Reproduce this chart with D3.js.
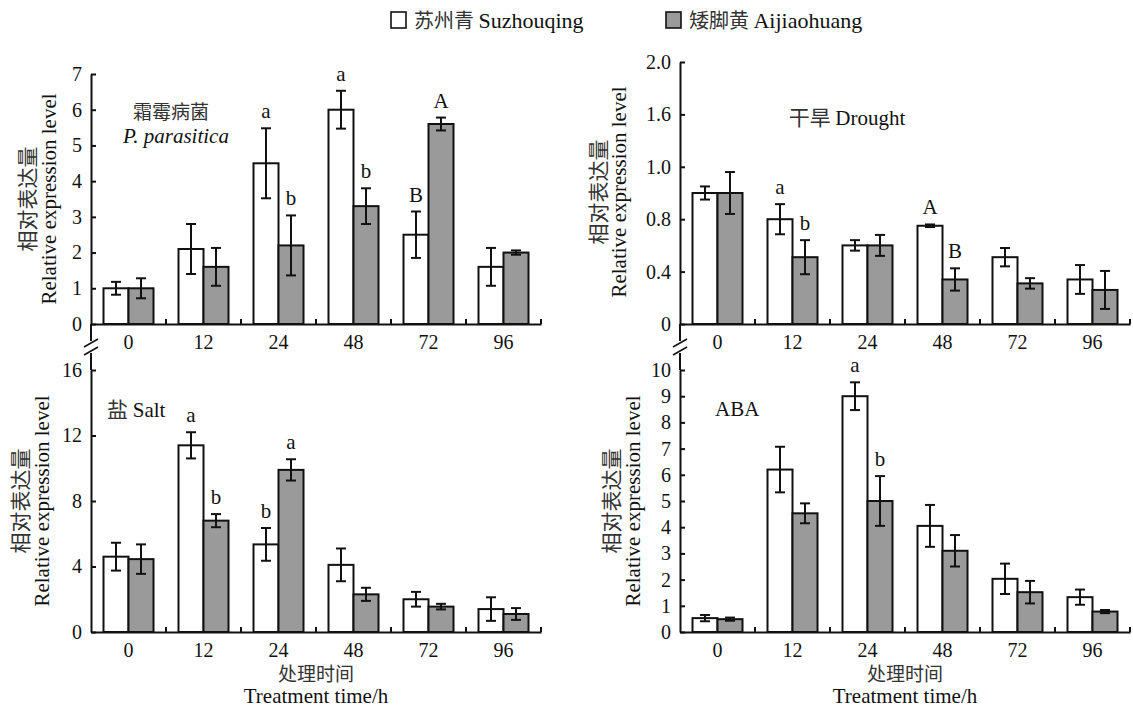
<!DOCTYPE html>
<html>
<head>
<meta charset="utf-8">
<script src="https://cdn.jsdelivr.net/npm/d3@7"></script>
<style>
  body { margin: 0; background: #fff; }
</style>
</head>
<body>
<svg id="chart" width="1133" height="709"></svg>
<script>
// Time points (h) and cultivars
const times = ['0', '12', '24', '48', '72', '96'];
const cultivars = ['苏州青 Suzhouqing', '矮脚黄 Aijiaohuang'];

// 霜霉病菌 P. parasitica
const downyWhite = [1.0, 2.1, 4.5, 6.0, 2.5, 1.6];
const downyWhiteErr = [0.18, 0.7, 0.98, 0.53, 0.65, 0.53];
const downyGrey = [1.0, 1.6, 2.2, 3.3, 5.6, 2.0];
const downyGreyErr = [0.28, 0.53, 0.84, 0.5, 0.18, 0.06];
const downyWhiteSig = ['', '', 'a', 'a', 'B', ''];
const downyGreySig = ['', '', 'b', 'b', 'A', ''];
const downyTicks = [0, 1, 2, 3, 4, 5, 6, 7];
const downyTickLabels = ['0', '1', '2', '3', '4', '5', '6', '7'];

// 干旱 Drought
const droughtWhite = [1.0, 0.8, 0.6, 0.75, 0.51, 0.34];
const droughtWhiteErr = [0.05, 0.115, 0.04, 0.01, 0.07, 0.11];
const droughtGrey = [1.0, 0.51, 0.6, 0.34, 0.31, 0.26];
const droughtGreyErr = [0.16, 0.13, 0.08, 0.085, 0.04, 0.145];
const droughtWhiteSig = ['', 'a', '', 'A', '', ''];
const droughtGreySig = ['', 'b', '', 'B', '', ''];
const droughtTicks = [0, 0.4, 0.8, 1.2, 1.6, 2.0];
const droughtTickLabels = ['0', '0.4', '0.8', '1.0', '1.6', '2.0'];

// 盐 Salt
const saltWhite = [4.6, 11.4, 5.35, 4.1, 2.0, 1.4];
const saltWhiteErr = [0.85, 0.8, 1.0, 1.0, 0.45, 0.72];
const saltGrey = [4.45, 6.8, 9.9, 2.3, 1.55, 1.1];
const saltGreyErr = [0.9, 0.4, 0.65, 0.4, 0.17, 0.36];
const saltWhiteSig = ['', 'a', 'b', '', '', ''];
const saltGreySig = ['', 'b', 'a', '', '', ''];
const saltTicks = [0, 4, 8, 12, 16];
const saltTickLabels = ['0', '4', '8', '12', '16'];

// ABA
const abaWhite = [0.53, 6.2, 9.0, 4.05, 2.03, 1.33];
const abaWhiteErr = [0.12, 0.87, 0.53, 0.8, 0.58, 0.29];
const abaGrey = [0.49, 4.53, 5.0, 3.1, 1.52, 0.78];
const abaGreyErr = [0.06, 0.38, 0.95, 0.6, 0.43, 0.06];
const abaWhiteSig = ['', '', 'a', '', '', ''];
const abaGreySig = ['', '', 'b', '', '', ''];
const abaTicks = [0, 1, 2, 3, 4, 5, 6, 7, 8, 9, 10];
const abaTickLabels = ['0', '1', '2', '3', '4', '5', '6', '7', '8', '9', '10'];

const serif = '"Times New Roman", "Liberation Serif", serif';
const cjk = '"Noto Sans CJK SC", sans-serif';
const greyFill = '#9a9a9a';
const ink = '#111';
const cjkInk = '#333';

const svg = d3.select('#chart');

// Panel layout
const panels = [
    { left: 91, right: 541, top: 74, bottom: 324, max: 7, ticks: downyTicks, labels: downyTickLabels,
      white: downyWhite, whiteErr: downyWhiteErr, grey: downyGrey, greyErr: downyGreyErr,
      whiteSig: downyWhiteSig, greySig: downyGreySig,
      ytitle: { cx: 27, ex: 49, cy: 199 }, breakDown: true },
    { left: 680, right: 1130, top: 62, bottom: 324, max: 2, ticks: droughtTicks, labels: droughtTickLabels,
      white: droughtWhite, whiteErr: droughtWhiteErr, grey: droughtGrey, greyErr: droughtGreyErr,
      whiteSig: droughtWhiteSig, greySig: droughtGreySig,
      ytitle: { cx: 598, ex: 619, cy: 192 }, breakDown: true },
    { left: 91, right: 541, top: 370, bottom: 632, max: 16, ticks: saltTicks, labels: saltTickLabels,
      white: saltWhite, whiteErr: saltWhiteErr, grey: saltGrey, greyErr: saltGreyErr,
      whiteSig: saltWhiteSig, greySig: saltGreySig,
      ytitle: { cx: 20, ex: 42, cy: 501 }, xtitle: true },
    { left: 680, right: 1130, top: 370, bottom: 632, max: 10, ticks: abaTicks, labels: abaTickLabels,
      white: abaWhite, whiteErr: abaWhiteErr, grey: abaGrey, greyErr: abaGreyErr,
      whiteSig: abaWhiteSig, greySig: abaGreySig,
      ytitle: { cx: 611, ex: 633, cy: 501 }, xtitle: true }
];

function drawPanel(p) {
    const g = svg.append('g');

    const x0 = d3.scaleBand().domain(times).range([p.left, p.right]);
    const x1 = d3.scaleBand().domain(['w', 'g']).range([0, x0.bandwidth()]).paddingOuter(0.5);
    const y = d3.scaleLinear().domain([0, p.max]).range([p.bottom, p.top]);

    const rows = times.flatMap((t, i) => [
        { t, s: 'w', v: p.white[i], e: p.whiteErr[i], sig: p.whiteSig[i] },
        { t, s: 'g', v: p.grey[i], e: p.greyErr[i], sig: p.greySig[i] }
    ]);
    const cx = d => x0(d.t) + x1(d.s) + x1.bandwidth() / 2;

    // Barres
    g.selectAll('rect.bar')
        .data(rows)
        .join('rect')
        .attr('class', 'bar')
        .attr('x', d => x0(d.t) + x1(d.s))
        .attr('y', d => y(d.v))
        .attr('width', x1.bandwidth())
        .attr('height', d => y(0) - y(d.v))
        .attr('fill', d => d.s === 'w' ? '#fff' : greyFill)
        .attr('stroke', ink)
        .attr('stroke-width', 2);

    // Barres d'error
    const err = g.selectAll('g.err').data(rows).join('g').attr('class', 'err')
        .attr('stroke', ink).attr('stroke-width', 2);
    err.append('line')
        .attr('x1', cx).attr('x2', cx)
        .attr('y1', d => y(d.v - d.e)).attr('y2', d => y(d.v + d.e));
    err.append('line')
        .attr('x1', d => cx(d) - 5).attr('x2', d => cx(d) + 5)
        .attr('y1', d => y(d.v + d.e)).attr('y2', d => y(d.v + d.e));
    err.append('line')
        .attr('x1', d => cx(d) - 5).attr('x2', d => cx(d) + 5)
        .attr('y1', d => y(d.v - d.e)).attr('y2', d => y(d.v - d.e));

    // Lletres de significació
    g.selectAll('text.sig')
        .data(rows.filter(d => d.sig))
        .join('text')
        .attr('class', 'sig')
        .attr('x', cx)
        .attr('y', d => y(d.v + d.e) - 10)
        .attr('text-anchor', 'middle')
        .attr('font-family', serif)
        .attr('font-size', 21)
        .attr('fill', ink)
        .text(d => d.sig);

    // Eix Y
    const yAxis = g.append('g')
        .attr('transform', `translate(${p.left},0)`)
        .call(d3.axisLeft(y)
            .tickValues(p.ticks)
            .tickSizeInner(-5)
            .tickSizeOuter(0)
            .tickPadding(9)
            .tickFormat((d, i) => p.labels[i]));
    yAxis.attr('font-family', serif).attr('font-size', 20);
    yAxis.selectAll('path, line').attr('stroke', ink).attr('stroke-width', 2);
    yAxis.selectAll('text').attr('fill', ink);

    // Eix X
    const xAxis = g.append('g')
        .attr('transform', `translate(0,${p.bottom})`)
        .call(d3.axisBottom(x0).tickSize(0).tickPadding(11));
    xAxis.attr('font-family', serif).attr('font-size', 20);
    xAxis.select('.domain').attr('stroke', ink).attr('stroke-width', 2);
    xAxis.selectAll('text').attr('fill', ink);

    // Marques entre grups, cap amunt
    g.selectAll('line.sep')
        .data(times)
        .join('line')
        .attr('class', 'sep')
        .attr('x1', t => x0(t) + x0.bandwidth()).attr('x2', t => x0(t) + x0.bandwidth())
        .attr('y1', p.bottom).attr('y2', p.bottom - 5)
        .attr('stroke', ink).attr('stroke-width', 2);

    // Tall de l'eix
    if (p.breakDown) {
        g.append('line')
            .attr('x1', p.left).attr('x2', p.left)
            .attr('y1', p.bottom).attr('y2', 341)
            .attr('stroke', ink).attr('stroke-width', 2);
        g.append('line')
            .attr('x1', p.left).attr('x2', p.left)
            .attr('y1', 353).attr('y2', 370)
            .attr('stroke', ink).attr('stroke-width', 2);
        [343, 351].forEach(by => {
            g.append('line')
                .attr('x1', p.left - 7).attr('y1', by + 4)
                .attr('x2', p.left + 7).attr('y2', by - 4)
                .attr('stroke', ink).attr('stroke-width', 1.6);
        });
    }

    // Títol de l'eix Y
    g.append('text')
        .attr('transform', `translate(${p.ytitle.cx},${p.ytitle.cy}) rotate(-90)`)
        .attr('dy', '0.36em')
        .attr('text-anchor', 'middle')
        .attr('font-family', cjk)
        .attr('font-size', 21)
        .attr('fill', cjkInk)
        .text('相对表达量');
    g.append('text')
        .attr('transform', `translate(${p.ytitle.ex},${p.ytitle.cy}) rotate(-90)`)
        .attr('dy', '0.34em')
        .attr('text-anchor', 'middle')
        .attr('font-family', serif)
        .attr('font-size', 21)
        .attr('fill', ink)
        .text('Relative expression level');

    // Títol de l'eix X
    if (p.xtitle) {
        const mid = (p.left + p.right) / 2;
        g.append('text')
            .attr('x', mid).attr('y', 681)
            .attr('text-anchor', 'middle')
            .attr('font-family', cjk)
            .attr('font-size', 19)
            .attr('fill', cjkInk)
            .text('处理时间');
        g.append('text')
            .attr('x', mid).attr('y', 703)
            .attr('text-anchor', 'middle')
            .attr('font-family', serif)
            .attr('font-size', 21)
            .attr('fill', ink)
            .text('Treatment time/h');
    }
}

panels.forEach(drawPanel);

// Rètols dels tractaments
const note = (x, y, text, family, anchor, style) => svg.append('text')
    .attr('x', x).attr('y', y)
    .attr('text-anchor', anchor)
    .attr('font-family', family)
    .attr('font-size', 21)
    .attr('font-style', style || 'normal')
    .attr('fill', ink)
    .text(text);

note(171, 119, '霜霉病菌', cjk, 'middle').attr('fill', cjkInk).attr('font-size', 19);
note(176, 143, 'P. parasitica', serif, 'middle', 'italic');
const drought = svg.append('text')
    .attr('x', 847).attr('y', 125)
    .attr('text-anchor', 'middle')
    .attr('font-size', 21)
    .attr('fill', ink);
drought.append('tspan').attr('font-family', cjk).attr('fill', cjkInk).text('干旱 ');
drought.append('tspan').attr('font-family', serif).text('Drought');
const salt = svg.append('text')
    .attr('x', 107).attr('y', 417)
    .attr('font-size', 21)
    .attr('fill', ink);
salt.append('tspan').attr('font-family', cjk).attr('fill', cjkInk).text('盐 ');
salt.append('tspan').attr('font-family', serif).text('Salt');
note(715, 416, 'ABA', serif, 'start');

// Llegenda
const legendX = [391, 666];
cultivars.forEach((name, i) => {
    const lg = svg.append('g').attr('transform', `translate(${legendX[i]},12)`);
    lg.append('rect')
        .attr('width', 15).attr('height', 16)
        .attr('fill', i === 0 ? '#fff' : greyFill)
        .attr('stroke', ink).attr('stroke-width', 1.6);
    const [cn, en] = name.split(' ');
    const t = lg.append('text').attr('x', 23).attr('y', 16).attr('font-size', 20).attr('fill', ink);
    t.append('tspan').attr('font-family', cjk).attr('fill', cjkInk).text(cn + ' ');
    t.append('tspan').attr('font-family', serif).attr('font-size', 22).text(en);
});
</script>
</body>
</html>
